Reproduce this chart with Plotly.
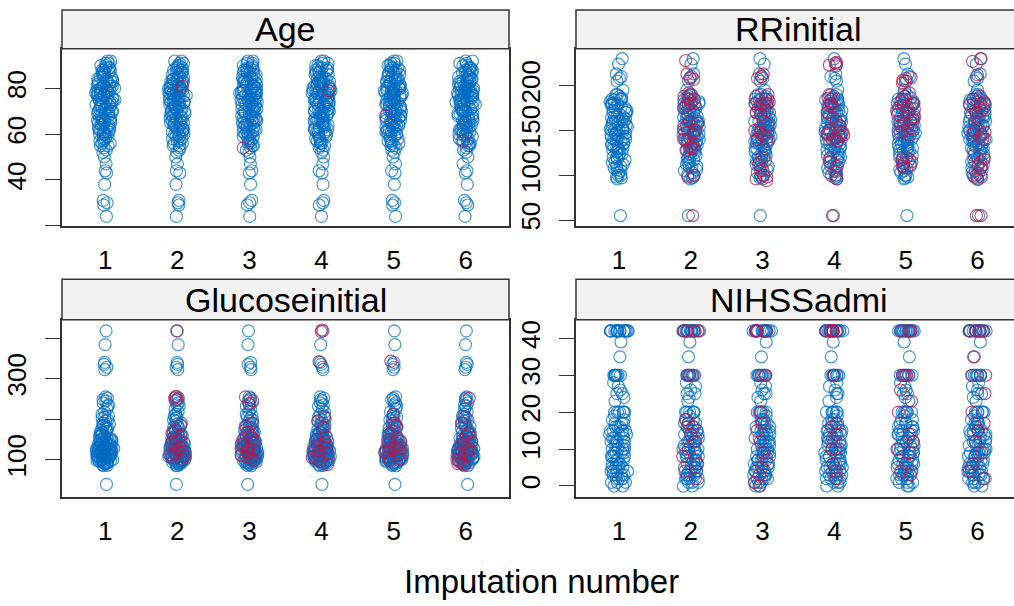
import plotly.graph_objects as go

# ---------------- data ----------------
imputation_numbers = [1, 2, 3, 4, 5, 6]
panel_titles = ["Age", "RRinitial", "Glucoseinitial", "NIHSSadmi"]

age_observed = [24, 29, 30, 31, 38, 43, 44, 47, 50, 52,
                53, 54, 55, 55, 56, 56, 57, 57, 58, 58,
                59, 59, 60, 60, 60, 61, 61, 62, 62, 63, 63, 64, 64, 64,
                65, 65, 66, 66, 66, 67, 67, 68, 68, 68, 69, 69, 70, 70, 70,
                71, 71, 72, 72, 72, 73, 73, 73, 74, 74, 74, 75, 75, 75, 76, 76, 76,
                77, 77, 77, 78, 78, 78, 78, 79, 79, 79, 79, 80, 80, 80, 80, 81, 81, 81, 82, 82, 82,
                83, 83, 83, 84, 84, 84, 85, 85, 86, 86,
                87, 87, 88, 88, 88, 89, 89, 90, 90, 91, 91, 92, 92,
                61, 63, 65, 67, 69, 71, 73, 75, 77, 79, 81, 83, 85, 87, 89, 62, 66, 70, 74, 78]
age_imputed = [[81], [54], [79], [68], [57]]

rr_observed = [55,
               230, 224, 213, 210, 208, 205,
               195, 190, 190, 188, 185, 185, 185,
               184, 182, 180, 180, 180, 180, 178, 176, 175, 175, 172, 170, 170, 170,
               168, 165, 165, 164, 162, 160, 160, 160, 160, 158, 156, 155, 155,
               154, 152, 150, 150, 150, 150, 148, 147, 145, 145, 143, 142, 140, 140, 140, 140,
               138, 136, 135, 135, 132, 130, 130, 130, 128, 126, 125,
               122, 120, 120, 118, 115, 114, 112, 110, 110,
               108, 105, 103, 100, 100, 98, 96,
               178, 172, 166, 163, 158, 152, 146, 144, 138, 134, 128, 124, 117, 106, 97, 186]
rr_imputed = [
    [228, 213, 209, 207, 192, 190, 188, 185, 183, 180, 180, 178, 175, 160, 158,
     155, 152, 150, 148, 146, 140, 138, 135, 132, 130, 130, 128, 100, 98, 55],
    [213, 210, 208, 190, 188, 185, 182, 180, 180, 178, 175, 172, 170, 168, 156,
     153, 150, 148, 145, 142, 140, 138, 120, 116, 112, 105, 100, 98, 96, 94],
    [226, 225, 223, 222, 190, 186, 183, 180, 178, 176, 170, 165, 160, 155, 150,
     148, 147, 145, 145, 143, 142, 140, 138, 120, 115, 110, 104, 100, 96, 55],
    [209, 206, 205, 203, 192, 188, 185, 182, 180, 178, 176, 174, 172, 170, 168,
     165, 162, 160, 158, 155, 152, 150, 148, 145, 120, 118, 115, 113, 110, 108],
    [230, 227, 212, 188, 185, 182, 180, 178, 175, 172, 170, 168, 165, 150, 148,
     146, 145, 142, 140, 122, 118, 115, 112, 108, 102, 100, 98, 95, 55, 55],
]

glucose_observed = [418, 384, 340, 335, 328, 322,
                    255, 252, 248, 245, 240, 235, 232,
                    225, 218, 212, 208, 205, 202,
                    198, 195, 190, 188, 185, 182, 180, 178, 175, 172, 170,
                    168, 165, 162, 160, 158, 155, 152, 150, 150, 148, 146, 145, 143, 142, 140, 140,
                    138, 137, 135, 134, 132, 130, 130, 129, 128, 127, 126, 125, 124, 123, 122, 121, 120, 120,
                    119, 118, 117, 116, 115, 114, 113, 112, 112, 111, 110, 110, 109, 108, 107, 106, 105,
                    104, 103, 102, 101, 100, 100,
                    99, 98, 97, 96, 95, 94, 93, 92, 91, 90, 88, 86, 85,
                    39,
                    108, 115, 122, 128, 133, 136, 144, 152, 157, 163, 118, 125, 131, 106, 98]
glucose_imputed = [
    [418, 256, 252, 248, 185, 172, 165, 158, 150, 145, 140, 135, 130, 125, 120, 115, 112, 108, 105, 100],
    [255, 245, 238, 190, 182, 168, 160, 152, 148, 142, 138, 132, 128, 124, 120, 116, 112, 108, 104, 98],
    [420, 416, 342, 205, 195, 180, 160, 150, 145, 140, 135, 130, 125, 120, 115, 110, 105, 100, 95, 88],
    [343, 212, 190, 182, 170, 155, 150, 145, 140, 135, 130, 128, 125, 120, 118, 115, 110, 105, 102, 98],
    [252, 205, 190, 165, 158, 150, 145, 140, 135, 130, 125, 120, 115, 110, 105, 100, 96, 92, 90, 88],
]

nihss_observed = [42, 42, 42, 42, 42, 42, 42, 42, 42, 42, 42, 42, 42, 42, 42, 42,
                  39, 35,
                  30, 30, 30, 30, 30, 30, 30, 30,
                  28, 27, 26, 25, 25, 24, 23,
                  20, 20, 20, 20, 20, 20,
                  19, 18, 18, 17, 17, 17, 16, 16, 16, 15, 15, 15, 15, 14, 14, 14, 14,
                  13, 13, 13, 12, 12, 12, 12, 11, 11, 11, 10, 10, 10, 10, 9, 9, 9, 9,
                  8, 8, 8, 8, 7, 7, 7, 6, 6, 6, 6, 5, 5, 5, 5, 4, 4, 4, 4,
                  3, 3, 3, 3, 2, 2, 2, 2, 1, 1, 1, 0, 0]
nihss_imputed = [
    [42, 42, 42, 42, 30, 30, 18, 17, 16, 14, 12, 10, 8, 6, 4, 2],
    [42, 42, 42, 42, 30, 30, 20, 17, 15, 12, 9, 7, 5, 3, 1, 0],
    [42, 42, 42, 42, 42, 42, 30, 17, 16, 14, 12, 10, 10, 6, 4, 2],
    [42, 42, 42, 30, 30, 30, 26, 23, 20, 14, 12, 10, 9, 6, 4, 3],
    [42, 42, 42, 42, 35, 30, 30, 25, 20, 17, 15, 12, 9, 6, 4, 2],
]

age_ticks = [20, 40, 60, 80]
age_ticktext = ["", "40", "60", "80"]
rr_ticks = [50, 100, 150, 200]
rr_ticktext = ["50", "100", "150", "200"]
glucose_ticks = [100, 200, 300, 400]
glucose_ticktext = ["100", "", "300", ""]
nihss_ticks = [0, 10, 20, 30, 40]
nihss_ticktext = ["0", "10", "20", "30", "40"]

# ---------------- styling ----------------
W, H = 1014, 606
BLUE = "rgba(0,108,194,0.72)"
RED = "rgba(182,26,81,0.75)"
LINE = "#333333"
FONT = "Liberation Sans, Arial, sans-serif"

panels = [
    dict(title=panel_titles[0], obs=age_observed, imp=age_imputed, rng=[19.6, 97.4],
         tv=age_ticks, tt=age_ticktext, px=(62, 509), py=(49, 228), strip=(10, 49), right=False),
    dict(title=panel_titles[1], obs=rr_observed, imp=rr_imputed, rng=[42.8, 241.2],
         tv=rr_ticks, tt=rr_ticktext, px=(576, 1014), py=(49, 228), strip=(10, 49), right=True),
    dict(title=panel_titles[2], obs=glucose_observed, imp=glucose_imputed, rng=[8.5, 445],
         tv=glucose_ticks, tt=glucose_ticktext, px=(62, 509), py=(322, 500), strip=(281, 322), right=False),
    dict(title=panel_titles[3], obs=nihss_observed, imp=nihss_imputed, rng=[-2.9, 45.0],
         tv=nihss_ticks, tt=nihss_ticktext, px=(576, 1014), py=(322, 500), strip=(281, 322), right=True),
]

fig = go.Figure()
shapes = []
annotations = []
layout = {}

for i, p in enumerate(panels, start=1):
    xa = "x" if i == 1 else f"x{i}"
    ya = "y" if i == 1 else f"y{i}"

    xs, ys = [], []
    for k in imputation_numbers:
        xs += [k] * len(p["obs"])
        ys += p["obs"]
    xi, yi = [], []
    for k, vals in zip(imputation_numbers[1:], p["imp"]):
        xi += [k] * len(vals)
        yi += vals

    for xx, yy, col in ((xs, ys, BLUE), (xi, yi, RED)):
        fig.add_trace(go.Box(
            x=xx, y=yy, xaxis=xa, yaxis=ya,
            boxpoints="all", jitter=0.55, pointpos=0,
            fillcolor="rgba(0,0,0,0)", line=dict(width=0, color="rgba(0,0,0,0)"),
            marker=dict(symbol="circle-open", size=12, color=col,
                        line=dict(width=1.2, color=col)),
            hoveron="points", showlegend=False,
        ))

    x0, x1 = p["px"]
    y0, y1 = p["py"]
    xdom = [x0 / W, min(1.0, x1 / W)]
    ydom = [1 - y1 / H, 1 - y0 / H]
    xrange = [0.4, 6.6] if not p["right"] else [0.4, 0.4 + (x1 - x0) / 71.7]

    layout["xaxis" if i == 1 else f"xaxis{i}"] = dict(
        domain=xdom, range=xrange, anchor=ya, tickvals=imputation_numbers,
        ticks="", showline=True, mirror=True, linecolor=LINE, linewidth=1.5,
        showgrid=False, zeroline=False, tickfont=dict(size=26, color="black", family=FONT),
        ticklabelstandoff=10, fixedrange=True,
    )
    layout["yaxis" if i == 1 else f"yaxis{i}"] = dict(
        domain=ydom, range=p["rng"], anchor=xa, tickvals=p["tv"], ticktext=p["tt"],
        tickangle=-90, ticks="outside", ticklen=15, tickwidth=1.3, tickcolor=LINE,
        showline=True, mirror=not p["right"], linecolor=LINE, linewidth=1.5,
        showgrid=False, zeroline=False, tickfont=dict(size=26, color="black", family=FONT),
        ticklabelstandoff=9, fixedrange=True,
    )

    s0, s1 = p["strip"]
    shapes.append(dict(type="rect", xref="paper", yref="paper",
                       x0=x0 / W, x1=min(1.0, x1 / W) + (0.01 if p["right"] else 0),
                       y0=1 - s1 / H, y1=1 - s0 / H,
                       fillcolor="#F2F2F2", line=dict(color=LINE, width=1.5), layer="above"))
    annotations.append(dict(text=p["title"], xref="paper", yref="paper",
                            x=(x0 + (1021 if p["right"] else x1)) / 2 / W,
                            y=1 - (s0 + s1) / 2 / H, showarrow=False,
                            xanchor="center", yanchor="middle",
                            font=dict(size=34, color="black", family=FONT)))

annotations.append(dict(text="Imputation number", xref="paper", yref="paper",
                        x=541 / W, y=1 - 585 / H, showarrow=False,
                        xanchor="center", yanchor="middle",
                        font=dict(size=33, color="black", family=FONT)))

fig.update_layout(
    width=W, height=H, autosize=False,
    margin=dict(l=0, r=0, t=0, b=0, pad=0),
    paper_bgcolor="white", plot_bgcolor="white",
    boxmode="overlay", showlegend=False,
    font=dict(family=FONT, color="black"),
    shapes=shapes, annotations=annotations,
    **layout,
)

fig.write_html("out.html", config={"displayModeBar": False})
